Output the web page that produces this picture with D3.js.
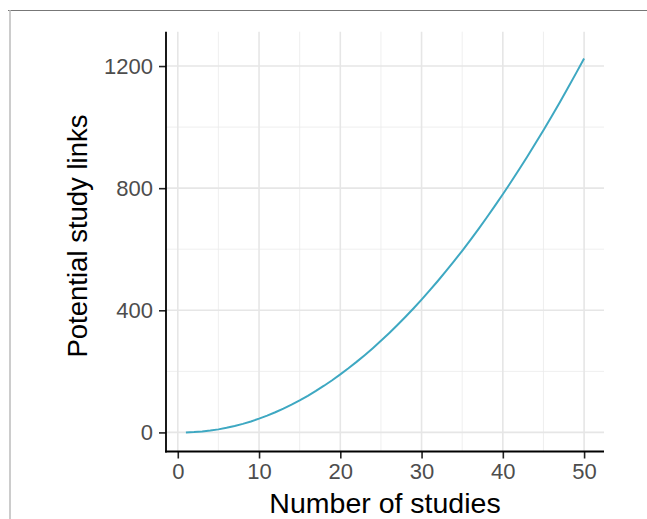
<!DOCTYPE html>
<html>
<head>
<meta charset="utf-8">
<script src="https://cdn.jsdelivr.net/npm/d3@7"></script>
<style>
  html, body { margin: 0; padding: 0; background: #fff; }
  svg { display: block; }
</style>
</head>
<body>
<div id="chart"></div>
<script>
// Data
const studies = [1,2,3,4,5,6,7,8,9,10,11,12,13,14,15,16,17,18,19,20,21,22,23,24,25,
  26,27,28,29,30,31,32,33,34,35,36,37,38,39,40,41,42,43,44,45,46,47,48,49,50];
const links = [0,1,3,6,10,15,21,28,36,45,55,66,78,91,105,120,136,153,171,190,210,231,253,276,300,
  325,351,378,406,435,465,496,528,561,595,630,666,703,741,780,820,861,903,946,990,1035,1081,1128,1176,1225];
const xTicks = [0, 10, 20, 30, 40, 50];
const xMinor = [5, 15, 25, 35, 45];
const yTicks = [0, 400, 800, 1200];
const yMinor = [200, 600, 1000];

// Layout
const WIDTH = 647, HEIGHT = 519;
const PANEL = { left: 166, right: 604, top: 31.7, bottom: 451.5 };
const FONT = "'Liberation Sans', Arial, sans-serif";

const data = studies.map((n, i) => ({ n, v: links[i] }));

const x = d3.scaleLinear().domain([-1.45, 52.45]).range([PANEL.left, PANEL.right]);
const y = d3.scaleLinear().domain([-62.5, 1312.5]).range([PANEL.bottom, PANEL.top]);

const svg = d3.select("#chart").append("svg")
  .attr("width", WIDTH)
  .attr("height", HEIGHT);

// outer frame
svg.append("line")
  .attr("x1", 8).attr("x2", WIDTH).attr("y1", 10.5).attr("y2", 10.5)
  .attr("stroke", "#777").attr("stroke-width", 1);
svg.append("line")
  .attr("x1", 10).attr("x2", 10).attr("y1", 10).attr("y2", HEIGHT)
  .attr("stroke", "#bbb").attr("stroke-width", 1.5);

// grid
const grid = svg.append("g");
grid.selectAll(".ymin").data(yMinor).enter().append("line")
  .attr("x1", PANEL.left).attr("x2", PANEL.right)
  .attr("y1", d => y(d)).attr("y2", d => y(d))
  .attr("stroke", "#ebebeb").attr("stroke-width", 0.8);
grid.selectAll(".xmin").data(xMinor).enter().append("line")
  .attr("y1", PANEL.top).attr("y2", PANEL.bottom)
  .attr("x1", d => x(d)).attr("x2", d => x(d))
  .attr("stroke", "#ebebeb").attr("stroke-width", 0.8);
grid.selectAll(".ymaj").data(yTicks).enter().append("line")
  .attr("x1", PANEL.left).attr("x2", PANEL.right)
  .attr("y1", d => y(d)).attr("y2", d => y(d))
  .attr("stroke", "#e6e6e6").attr("stroke-width", 1.6);
grid.selectAll(".xmaj").data(xTicks).enter().append("line")
  .attr("y1", PANEL.top).attr("y2", PANEL.bottom)
  .attr("x1", d => x(d)).attr("x2", d => x(d))
  .attr("stroke", "#e6e6e6").attr("stroke-width", 1.6);

// line
const line = d3.line().x(d => x(d.n)).y(d => y(d.v));
svg.append("path")
  .datum(data)
  .attr("d", line)
  .attr("fill", "none")
  .attr("stroke", "#3ea8c2")
  .attr("stroke-width", 2);

// axes
const xAxis = svg.append("g")
  .attr("transform", `translate(0,${PANEL.bottom})`)
  .call(d3.axisBottom(x).tickValues(xTicks).tickFormat(d3.format("d")).tickSize(7).tickPadding(5));
const yAxis = svg.append("g")
  .attr("transform", `translate(${PANEL.left},0)`)
  .call(d3.axisLeft(y).tickValues(yTicks).tickFormat(d3.format("d")).tickSize(7).tickPadding(6));

[xAxis, yAxis].forEach(g => {
  g.select(".domain").remove();
  g.selectAll(".tick line").attr("stroke", "#222").attr("stroke-width", 1.6);
  g.selectAll(".tick text")
    .attr("fill", "#4d4d4d")
    .style("font-family", FONT)
    .style("font-size", "22px");
});

svg.append("line")
  .attr("x1", PANEL.left).attr("x2", PANEL.left)
  .attr("y1", PANEL.top).attr("y2", PANEL.bottom + 0.9)
  .attr("stroke", "#000").attr("stroke-width", 1.8);
svg.append("line")
  .attr("x1", PANEL.left - 0.9).attr("x2", PANEL.right)
  .attr("y1", PANEL.bottom).attr("y2", PANEL.bottom)
  .attr("stroke", "#000").attr("stroke-width", 1.8);

// axis titles
svg.append("text")
  .attr("x", (PANEL.left + PANEL.right) / 2)
  .attr("y", 513)
  .attr("text-anchor", "middle")
  .attr("fill", "#000")
  .style("font-family", FONT)
  .style("font-size", "28.5px")
  .text("Number of studies");

svg.append("text")
  .attr("transform", `translate(87,236) rotate(-90)`)
  .attr("text-anchor", "middle")
  .attr("fill", "#000")
  .style("font-family", FONT)
  .style("font-size", "27.5px")
  .text("Potential study links");
</script>
</body>
</html>
